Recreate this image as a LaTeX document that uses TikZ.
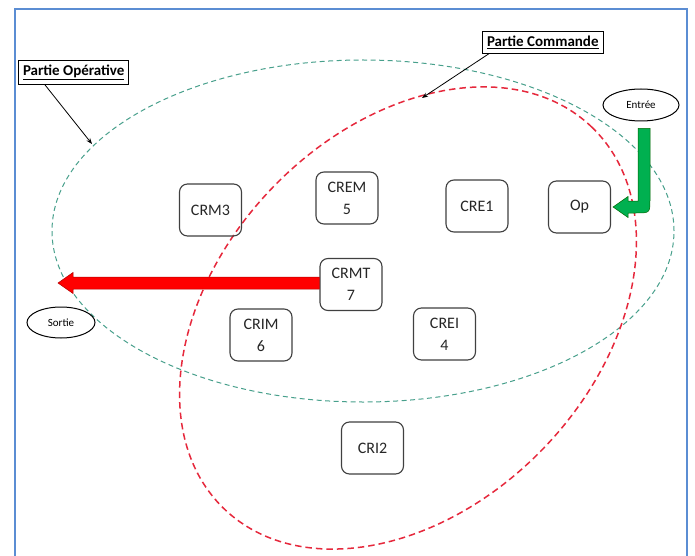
\documentclass[tikz,border=0pt]{standalone}
\usepackage{fontspec}
\setmainfont{Carlito}
\usetikzlibrary{calc,shapes.geometric,arrows.meta}
\definecolor{framebl}{RGB}{91,141,211}
\definecolor{opgreen}{RGB}{72,160,140}
\definecolor{cmdred}{RGB}{230,40,60}
\definecolor{arrred}{RGB}{255,0,0}
\definecolor{arrgreen}{RGB}{0,176,80}
\begin{document}
\begin{tikzpicture}[x=1pt,y=-1pt,
  unit/.style={draw=black!75, line width=1.1pt, rounded corners=8pt,
    minimum width=62pt, minimum height=52pt, align=center, inner sep=2pt,
    font=\fontsize{16}{22}\selectfont, text=black!85},
  tag/.style={draw=black, line width=1pt, fill=white,
    font=\bfseries\fontsize{15}{16}\selectfont, inner sep=4.5pt},
  io/.style={ellipse, draw=black, line width=1pt,
    font=\fontsize{11}{12}\selectfont, inner sep=0pt},
  pointer/.style={draw=black, line width=0.8pt, -{Stealth[length=6pt,width=4.5pt]}},
]
\useasboundingbox (0,0) rectangle (695,556);
\fill[white] (0,0) rectangle (695,556);
% page frame, open at the bottom
\draw[framebl, line width=2pt] (15,560) -- (15,9) -- (687,9) -- (687,560);

% the two parts
\draw[opgreen, line width=1pt, dash pattern=on 5pt off 3.5pt]
  (363,231) ellipse [x radius=311pt, y radius=171pt];
\draw[cmdred, line width=1.5pt, dash pattern=on 6.5pt off 4pt,
  rotate around={46:(408,318)}]
  (408,318) ellipse [x radius=265pt, y radius=188pt];

% units
\node[unit] (crm3) at (210.5,210) {CRM3};
\node[unit] (crem) at (347,198) {CREM\\5};
\node[unit] (cre1) at (477,206) {CRE1};
\node[unit] (op) at (579.5,207) {Op};
\node[unit] (crmt) at (351,284.5) {CRMT\\7};
\node[unit] (crim) at (261,335) {CRIM\\6};
\node[unit] (crei) at (444.5,334) {CREI\\4};
\node[unit] (cri2) at (372.5,448) {CRI2};

% input / output
\node[io, minimum width=76pt, minimum height=32pt] (entree) at (641,105) {Entrée};
\node[io, minimum width=68pt, minimum height=31pt] (sortie) at (61,322.5) {Sortie};

% output arrow
\coordinate (sortietip) at (58,283);
\filldraw[fill=arrred, draw=red!70!black, line width=0.5pt]
  ($(crmt.west)+(0,-7.5)$) -- ($(sortietip)+(15,-6)$) -- ($(sortietip)+(15,-10.5)$)
  -- (sortietip) -- ($(sortietip)+(15,10.5)$) -- ($(sortietip)+(15,6)$)
  -- ($(crmt.west)+(0,4.5)$) -- cycle;

% input arrow, bent towards Op
\coordinate (optip) at ($(op.east)+(2,0)$);
\filldraw[fill=arrgreen, draw=green!40!black, line width=0.5pt]
  ($(entree.south)+(-3,7)$) -- ($(entree.south)+(9,7)$) -- (650,199)
  .. controls (650,213) .. (636,213) -- (628,213) -- (628,217.5)
  -- (optip) -- (628,196.5) -- (628,201) -- (638,201) -- cycle;

% labels
\node[tag, anchor=north west] (tagop) at (18,60) {\underline{Partie Opérative}};
\node[tag, anchor=north west] (tagcmd) at (482,31) {\underline{Partie Commande}};
\coordinate (opmark) at (92,144);
\coordinate (cmdmark) at (422,98);
\draw[pointer] ($(tagop.south west)+(27,0)$) -- (opmark);
\draw[pointer] ($(tagcmd.south west)+(7,0)$) -- (cmdmark);
\end{tikzpicture}
\end{document}
